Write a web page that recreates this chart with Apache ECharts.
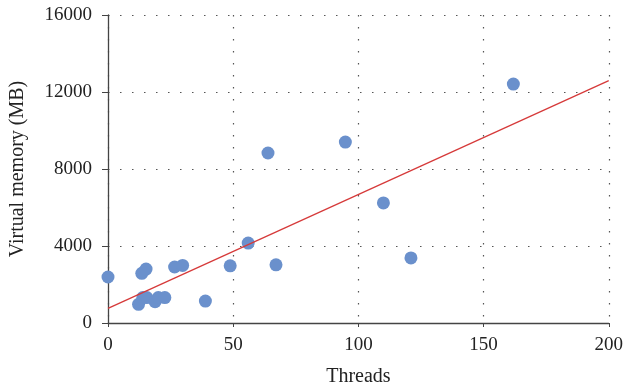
<!DOCTYPE html>
<html><head><meta charset="utf-8">
<script src="https://cdn.jsdelivr.net/npm/echarts@6/dist/echarts.min.js"></script>
<style>html,body{margin:0;padding:0;background:#fff}#c{width:626px;height:392px}</style>
</head><body><div id="c"></div>
<script>
const threads = [0, 12.2, 13.9, 15.5, 18.8, 20.1, 22.7, 13.5, 15.2, 26.6, 29.8, 38.9, 48.8, 56, 63.9, 67.1, 94.8, 110, 121, 161.9];
const memory  = [2390, 970, 1320, 1320, 1110, 1320, 1320, 2580, 2800, 2910, 2990, 1140, 2970, 4150, 8830, 3020, 9400, 6240, 3380, 12410];
const trendX = [0, 200];
const trendY = [763, 12590];
const xTicks = [0, 50, 100, 150, 200];
const yTicks = [0, 4000, 8000, 12000, 16000];

const font = '"Liberation Serif", "DejaVu Serif", serif';
const chart = echarts.init(document.getElementById('c'), null, {renderer: 'canvas'});
chart.setOption({
  animation: false,
  grid: {left: 106, right: 16, top: 15, bottom: 69},
  xAxis: {
    type: 'value', min: xTicks[0], max: xTicks[xTicks.length-1], interval: 50,
    name: 'Threads', nameLocation: 'middle', nameGap: 44,
    nameTextStyle: {fontFamily: font, fontSize: 20, color: '#222'},
    axisLine: {show: true, onZero: false, lineStyle: {color: '#444', width: 1.3}},
    axisTick: {show: true, length: 4, lineStyle: {color: '#444'}},
    axisLabel: {fontFamily: font, fontSize: 19, color: '#222', margin: 13, formatter: v => String(v)},
    splitLine: {show: true, lineStyle: {color: '#555', type: [1.5, 10.5], width: 1.2}}
  },
  yAxis: {
    type: 'value', min: yTicks[0], max: yTicks[yTicks.length-1], interval: 4000,
    name: 'Virtual memory (MB)', nameLocation: 'middle', nameGap: 80, nameRotate: 90,
    nameTextStyle: {fontFamily: font, fontSize: 20, color: '#222'},
    axisLine: {show: true, onZero: false, lineStyle: {color: '#444', width: 1.3}},
    axisTick: {show: true, length: 6, lineStyle: {color: '#444'}},
    axisLabel: {fontFamily: font, fontSize: 19, color: '#222', margin: 16, formatter: v => String(v)},
    splitLine: {show: true, lineStyle: {color: '#555', type: [1.5, 10.5], width: 1.2}}
  },
  series: [
    {type: 'scatter', data: threads.map((t, i) => [t, memory[i]]), symbolSize: 13,
     itemStyle: {color: '#6a90cc', opacity: 1}, z: 3},
    {type: 'line', data: trendX.map((t, i) => [t, trendY[i]]), symbol: 'none',
     lineStyle: {color: '#d63a3a', width: 1.3}, z: 4}
  ]
});
</script></body></html>
